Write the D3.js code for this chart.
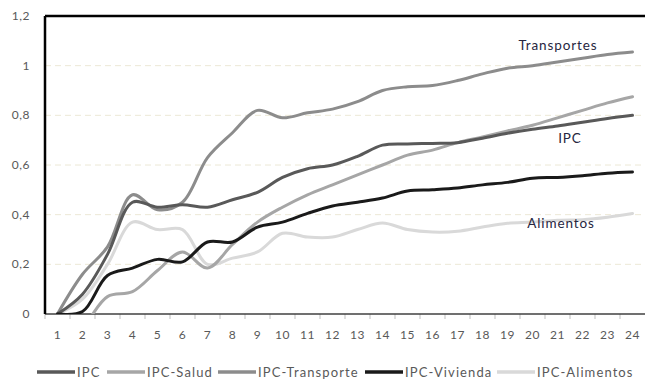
<!DOCTYPE html>
<html>
<head>
<meta charset="utf-8">
<script src="https://cdn.jsdelivr.net/npm/d3@7"></script>
<style>
  body { margin: 0; background: #fff; }
  text { font-family: Lato, "Liberation Sans", sans-serif; }
</style>
</head>
<body>
<div id="chart"></div>
<script>
// months 1..24
var categories = d3.range(1, 25)

var ipc = [0, 0.08, 0.24, 0.45, 0.43, 0.44, 0.43, 0.46, 0.49, 0.55, 0.585, 0.6, 0.635, 0.68, 0.685, 0.687, 0.69, 0.708, 0.728, 0.744, 0.757, 0.772, 0.787, 0.8]
var salud = [-0.1, -0.05, 0.07, 0.09, 0.175, 0.25, 0.185, 0.28, 0.37, 0.43, 0.48, 0.52, 0.56, 0.6, 0.64, 0.66, 0.69, 0.713, 0.737, 0.76, 0.79, 0.82, 0.85, 0.875]
var transporte = [0, 0.16, 0.27, 0.48, 0.42, 0.45, 0.63, 0.73, 0.82, 0.79, 0.81, 0.825, 0.855, 0.9, 0.915, 0.92, 0.94, 0.967, 0.99, 1.0, 1.015, 1.03, 1.045, 1.055]
var vivienda = [0, 0.01, 0.155, 0.185, 0.22, 0.21, 0.29, 0.29, 0.35, 0.37, 0.405, 0.435, 0.45, 0.467, 0.495, 0.5, 0.507, 0.52, 0.53, 0.547, 0.55, 0.557, 0.567, 0.572]
var alimentos = [0, 0.06, 0.2, 0.37, 0.34, 0.34, 0.2, 0.225, 0.25, 0.325, 0.31, 0.31, 0.34, 0.366, 0.34, 0.33, 0.333, 0.35, 0.365, 0.37, 0.378, 0.38, 0.39, 0.405]

var seriesNames = ["IPC", "IPC-Salud", "IPC-Transporte", "IPC-Vivienda", "IPC-Alimentos"]
var seriesColors = ["#595959", "#a6a6a6", "#8c8c8c", "#1a1a1a", "#d9d9d9"]
var yTicks = [0, 0.2, 0.4, 0.6, 0.8, 1, 1.2]

var allSeries = [ipc, salud, transporte, vivienda, alimentos]
// draw order: light ones first so darker sit on top
var drawOrder = [4, 1, 2, 0, 3]

var width = 645,
    height = 380,
    plotLeft = 45, plotRight = 645, plotTop = 16, plotBottom = 314

var svg = d3.select("#chart")
    .append("svg")
    .attr("width", width)
    .attr("height", height)

var x = d3.scaleBand()
    .domain(categories)
    .range([plotLeft, plotRight])

var y = d3.scaleLinear()
    .domain([0, 1.2])
    .range([plotBottom, plotTop])

svg.append("clipPath").attr("id", "plot")
    .append("rect")
    .attr("x", plotLeft).attr("y", plotTop)
    .attr("width", plotRight - plotLeft).attr("height", plotBottom - plotTop)

// gridlines
svg.selectAll(".grid")
    .data(yTicks.filter(function (d) { return d > 0 && d < 1.2 }))
    .enter()
    .append("line")
    .attr("x1", plotLeft).attr("x2", plotRight)
    .attr("y1", function (d) { return y(d) })
    .attr("y2", function (d) { return y(d) })
    .attr("stroke", "#ece8d6")
    .attr("stroke-dasharray", "6,4")

// y labels
svg.selectAll(".ylab")
    .data(yTicks)
    .enter()
    .append("text")
    .attr("x", 30)
    .attr("y", function (d) { return y(d) + 4 })
    .attr("text-anchor", "end")
    .attr("font-size", 12)
    .attr("letter-spacing", 0.5)
    .attr("fill", "#595959")
    .text(function (d) { return String(d).replace(".", ",") })

// x axis
var xAxis = d3.axisBottom(x).tickSize(0).tickPadding(0)
var gx = svg.append("g")
    .attr("transform", "translate(0," + plotBottom + ")")
    .call(xAxis)
gx.select(".domain").remove()
gx.selectAll("text")
    .attr("y", 25)
    .attr("dy", 0)
    .attr("font-size", 12)
    .attr("letter-spacing", 0.5)
    .attr("fill", "#595959")
    .style("font-family", "Lato, sans-serif")

svg.selectAll(".xtick")
    .data(categories)
    .enter()
    .append("line")
    .attr("x1", function (d) { return x(d) })
    .attr("x2", function (d) { return x(d) })
    .attr("y1", plotBottom)
    .attr("y2", plotBottom + 5)
    .attr("stroke", "#bfbfbf")

svg.append("line")
    .attr("x1", plotLeft).attr("x2", plotRight)
    .attr("y1", plotBottom).attr("y2", plotBottom)
    .attr("stroke", "#404040")
    .attr("stroke-width", 1.5)

// lines
var line = d3.line()
    .x(function (d, i) { return x(categories[i]) + x.bandwidth() / 2 })
    .y(function (d) { return y(d) })
    .curve(d3.curveCatmullRom.alpha(0.5))

svg.append("g")
    .attr("clip-path", "url(#plot)")
    .selectAll("path")
    .data(drawOrder)
    .enter()
    .append("path")
    .attr("d", function (k) { return line(allSeries[k]) })
    .attr("fill", "none")
    .attr("stroke", function (k) { return seriesColors[k] })
    .attr("stroke-width", 3)
    .attr("stroke-linejoin", "round")
    .attr("stroke-linecap", "round")

// frame: left and top
svg.append("line")
    .attr("x1", plotLeft).attr("x2", plotLeft)
    .attr("y1", plotTop).attr("y2", plotBottom)
    .attr("stroke", "#000").attr("stroke-width", 2.5)
svg.append("line")
    .attr("x1", plotLeft).attr("x2", plotRight)
    .attr("y1", plotTop).attr("y2", plotTop)
    .attr("stroke", "#000").attr("stroke-width", 2.5)

// annotations
var notes = [
    { t: "Transportes", x: 558, y: 50 },
    { t: "IPC", x: 570, y: 143 },
    { t: "Alimentos", x: 561, y: 228 }
]
svg.selectAll(".note")
    .data(notes)
    .enter()
    .append("text")
    .attr("x", function (d) { return d.x })
    .attr("y", function (d) { return d.y })
    .attr("text-anchor", "middle")
    .attr("font-size", 13.5)
    .attr("letter-spacing", 0.9)
    .attr("fill", "#262640")
    .text(function (d) { return d.t })

// legend
var legendX = [37, 107, 218, 365, 497]
var lg = svg.selectAll(".legend")
    .data(seriesNames)
    .enter()
    .append("g")
    .attr("transform", function (d, i) { return "translate(" + legendX[i] + ",372)" })
lg.append("line")
    .attr("x1", 0).attr("x2", 38)
    .attr("stroke", function (d, i) { return seriesColors[i] })
    .attr("stroke-width", 3.5)
lg.append("text")
    .attr("x", 40)
    .attr("y", 4.5)
    .attr("font-size", 13)
    .attr("letter-spacing", 1.1)
    .attr("fill", "#595959")
    .text(function (d) { return d })
</script>
</body>
</html>
